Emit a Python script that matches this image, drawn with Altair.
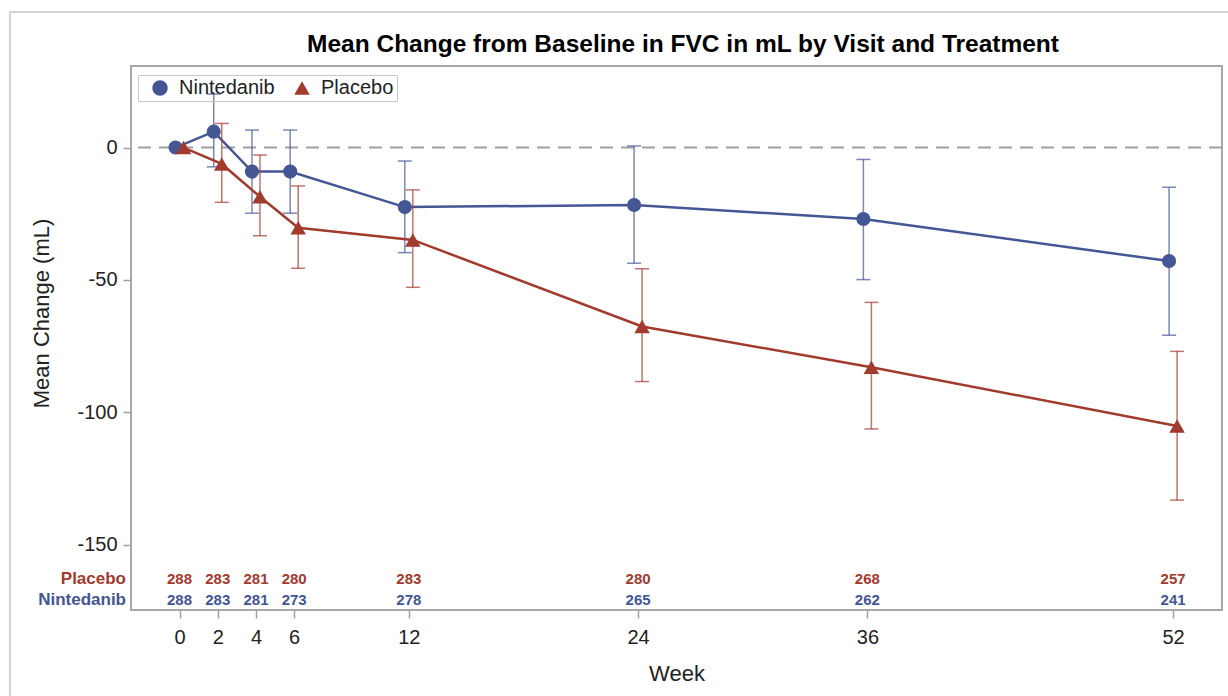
import altair as alt
import pandas as pd

# Visit weeks and per-arm summary statistics (mean change and 95% CI, mL)
weeks = [0, 2, 4, 6, 12, 24, 36, 52]

nint_mean = [0, 6.0, -9.1, -9.1, -22.5, -21.7, -27.0, -42.9]
nint_lower = [None, -7.3, -24.8, -24.8, -39.7, -43.7, -49.9, -70.9]
nint_upper = [None, 20.2, 6.6, 6.6, -5.1, 0.6, -4.5, -15.0]

plac_mean = [0, -6.2, -18.6, -30.3, -34.9, -67.6, -83.0, -105.2]
plac_lower = [None, -20.7, -33.3, -45.6, -52.8, -88.4, -106.3, -133.2]
plac_upper = [None, 9.1, -2.8, -14.5, -16.0, -45.8, -58.5, -77.0]

# Patients at risk at each visit
plac_n = [288, 283, 281, 280, 283, 280, 268, 257]
nint_n = [288, 283, 281, 273, 278, 265, 262, 241]

treatments = ["Nintedanib", "Placebo"]
BLUE = "#445694"
RED = "#A23A2E"
TITLE = "Mean Change from Baseline in FVC in mL by Visit and Treatment"

rows = []
for trt, means, lows, highs in [
    ("Nintedanib", nint_mean, nint_lower, nint_upper),
    ("Placebo", plac_mean, plac_lower, plac_upper),
]:
    for w, m, lo, hi in zip(weeks, means, lows, highs):
        rows.append({"Treatment": trt, "Week": w, "Mean": m, "Lower": lo, "Upper": hi})
df = pd.DataFrame(rows)

risk = pd.DataFrame({"Week": weeks, "Placebo": plac_n, "Nintedanib": nint_n})

x_scale = alt.Scale(domain=[-2.54, 54.56], nice=False, zero=False)
y_scale = alt.Scale(domain=[-174.7, 30.8], nice=False, zero=False)
color_scale = alt.Scale(domain=treatments, range=[BLUE, RED])
shape_scale = alt.Scale(domain=treatments, range=["circle", "triangle-up"])

x_axis = alt.Axis(
    values=weeks, title="Week", grid=False, domain=False,
    labelFontSize=20, labelColor="#222222", labelPadding=9,
    tickColor="#a0a0a0", tickSize=8, tickWidth=1.5,
    titleFontSize=22, titleFontWeight="normal", titleColor="#222222",
    titleY=63, titleBaseline="middle",
)
y_axis = alt.Axis(
    values=[-150, -100, -50, 0], title="Mean Change (mL)", grid=False, domain=False,
    labelFontSize=20, labelColor="#222222", labelPadding=6,
    labelExpr="'' + datum.value",
    tickColor="#a0a0a0", tickSize=8, tickWidth=1.5,
    titleFontSize=22, titleFontWeight="normal", titleColor="#222222",
    titleX=-90, titleY=247, titleBaseline="middle", titleAlign="center",
)

X = alt.X("Week:Q", scale=x_scale, axis=x_axis)


def Y(field):
    return alt.Y(field, type="quantitative", scale=y_scale, axis=y_axis)


legend = alt.Legend(
    title=None, orient="none", legendX=7, legendY=9, direction="horizontal",
    labelFontSize=20, labelColor="#222222", symbolSize=240, symbolStrokeWidth=0,
    strokeColor="#c8c8c8", padding=3,
    symbolOffset=9, labelOffset=9, columnPadding=8,
)
color_leg = alt.Color("Treatment:N", scale=color_scale, legend=legend)
shape_leg = alt.Shape("Treatment:N", scale=shape_scale, legend=legend)

one = pd.DataFrame({"k": [0]})

# Outer frame around the figure
frame = alt.Chart(one).mark_rect(
    fill="transparent", stroke="#d4d4d4", strokeWidth=2
).encode(x=alt.value(-121), x2=alt.value(1120), y=alt.value(-54), y2=alt.value(720))

title = alt.Chart(pd.DataFrame({"t": [TITLE]})).mark_text(
    fontSize=24.5, fontWeight="bold", color="#000000", align="center", baseline="alphabetic"
).encode(x=alt.value(552), y=alt.value(-14), text="t:N")

ref = alt.Chart(one).mark_rule(
    color="#a0a0a0", strokeDash=[13, 8], strokeWidth=2
).encode(y=alt.Y(datum=0, scale=y_scale, axis=y_axis))

layers = [frame, title, ref]
for trt, col, dx, msize in [("Nintedanib", BLUE, -4, 200), ("Placebo", RED, 4, 240)]:
    sub = alt.Chart(df).transform_filter(alt.datum.Treatment == trt)
    bars = sub.transform_filter("isValid(datum.Lower)")
    layers.append(
        bars.mark_rule(xOffset=dx, strokeWidth=1.5, opacity=0.7, color=col).encode(
            x=X, y=Y("Lower"), y2="Upper:Q"
        )
    )
    for f in ["Lower", "Upper"]:
        layers.append(
            bars.mark_tick(
                orient="horizontal", size=14, thickness=1.5, opacity=0.7, xOffset=dx, color=col
            ).encode(x=X, y=Y(f))
        )
    layers.append(
        sub.mark_line(xOffset=dx, strokeWidth=2.5, color=col).encode(x=X, y=Y("Mean"))
    )
    layers.append(
        sub.mark_point(filled=True, size=msize, opacity=1, xOffset=dx).encode(
            x=X, y=Y("Mean"), color=color_leg, shape=shape_leg
        )
    )

# Patients-at-risk table inside the bottom of the plot
risk_rows = [("Placebo", RED, 513), ("Nintedanib", BLUE, 534)]
for name, col, ypix in risk_rows:
    layers.append(
        alt.Chart(risk).mark_text(fontSize=15, fontWeight="bold", color=col).encode(
            x=X, y=alt.value(ypix), text=alt.Text(f"{name}:Q")
        )
    )
    layers.append(
        alt.Chart(pd.DataFrame({"label": [name]})).mark_text(
            fontSize=17, fontWeight="bold", color=col, align="right"
        ).encode(x=alt.value(-5), y=alt.value(ypix), text="label:N")
    )

chart = alt.layer(*layers).properties(
    width=1091,
    height=544,
    padding={"left": 131, "top": 66, "right": 6, "bottom": 86},
    autosize=alt.AutoSizeParams(type="none"),
).configure(font="Liberation Sans", background="white").configure_view(
    stroke="#a8a8a8", strokeWidth=2
)

chart.save("out.html", embed_options={"renderer": "svg", "actions": False})
